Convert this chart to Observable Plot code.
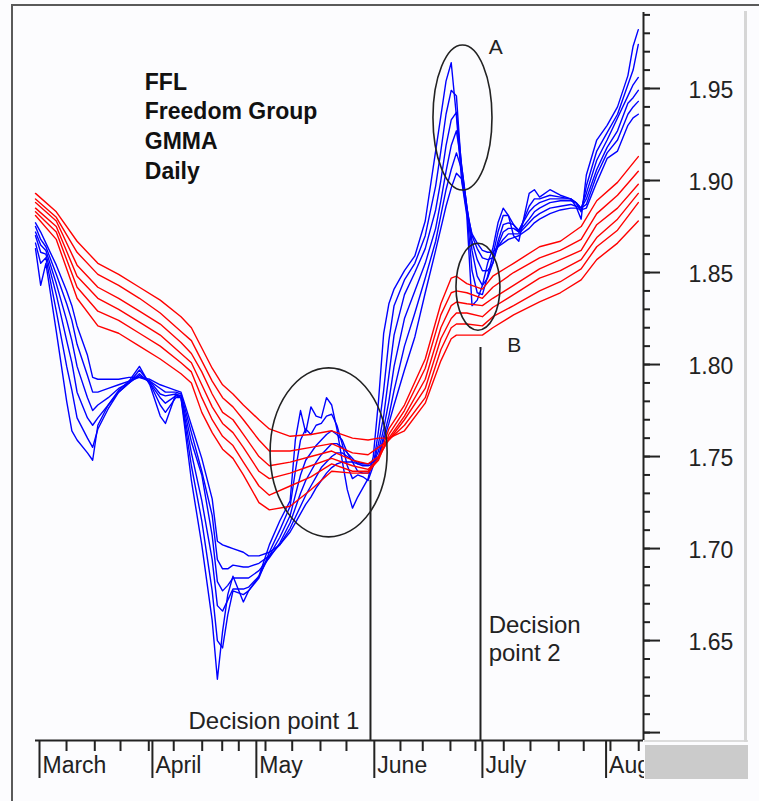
<!DOCTYPE html>
<html><head><meta charset="utf-8">
<script src="https://cdn.jsdelivr.net/npm/d3@7"></script>
<script src="https://cdn.jsdelivr.net/npm/@observablehq/plot@0.6"></script>
<style>
html,body{margin:0;padding:0;background:#fcfcfe;}
#wrap{position:relative;width:759px;height:801px;overflow:hidden;font-family:"Liberation Sans",Arial,sans-serif;}
#wrap svg{position:absolute;left:0;top:0;}
.deco{position:absolute;}
</style></head><body>
<div id="wrap"></div>
<script>
// ---- trading-day index (x) ----
const blueDays = [0,1,2,4,6,7,8,10,11,12, 14,16,18,20,22,24,25,27,28,30, 32,34,35,36,37,38,40,41,43,45,
  47,49,50,51,52,53,54,55,56,57, 58,59,60,61,62,63,64,65,66,67, 68,69,71,73,75,77,78,79,80,81,
  82,83,84,85,86,87,88,89,90,91, 92,93,95,96,97,99,101,103,104,105, 106,108,110,112,114,115,116];

// short-term group (blue)
const ema3 = [1.863,1.843,1.855,1.818,1.780,1.764,1.759,1.752,1.748,1.767,
  1.778,1.786,1.791,1.799,1.789,1.772,1.768,1.784,1.782,1.737,
  1.702,1.661,1.629,1.655,1.675,1.685,1.671,1.677,1.685,1.702,
  1.715,1.726,1.759,1.775,1.763,1.777,1.772,1.771,1.782,1.778,
  1.765,1.748,1.732,1.722,1.728,1.733,1.738,1.750,1.780,1.817,
  1.833,1.841,1.851,1.859,1.878,1.916,1.935,1.954,1.964,1.935,
  1.900,1.881,1.832,1.835,1.843,1.855,1.863,1.877,1.885,1.881,
  1.870,1.867,1.893,1.895,1.891,1.895,1.892,1.890,1.886,1.879,
  1.903,1.922,1.930,1.940,1.957,1.973,1.982];
const ema5 = [1.866,1.855,1.858,1.829,1.799,1.786,1.771,1.760,1.755,1.765,
  1.776,1.785,1.790,1.797,1.790,1.778,1.774,1.782,1.782,1.745,
  1.715,1.677,1.650,1.646,1.664,1.677,1.675,1.677,1.684,1.698,
  1.710,1.723,1.742,1.759,1.765,1.762,1.767,1.768,1.772,1.773,
  1.767,1.757,1.745,1.738,1.740,1.739,1.737,1.745,1.764,1.786,
  1.813,1.832,1.846,1.855,1.870,1.897,1.916,1.936,1.949,1.946,
  1.905,1.884,1.851,1.839,1.838,1.848,1.859,1.872,1.881,1.881,
  1.876,1.872,1.886,1.890,1.890,1.892,1.891,1.890,1.888,1.883,
  1.897,1.916,1.926,1.936,1.952,1.960,1.974];
const ema8 = [1.870,1.861,1.860,1.838,1.813,1.801,1.785,1.771,1.767,1.771,
  1.778,1.785,1.790,1.795,1.790,1.782,1.779,1.783,1.782,1.752,
  1.726,1.694,1.669,1.666,1.672,1.678,1.678,1.679,1.685,1.696,
  1.706,1.718,1.729,1.740,1.748,1.752,1.756,1.759,1.762,1.764,
  1.762,1.759,1.752,1.747,1.742,1.741,1.741,1.745,1.757,1.772,
  1.794,1.816,1.838,1.850,1.863,1.884,1.900,1.919,1.933,1.937,
  1.908,1.886,1.862,1.848,1.843,1.847,1.855,1.867,1.876,1.877,
  1.876,1.873,1.883,1.886,1.888,1.890,1.890,1.890,1.888,1.885,
  1.893,1.911,1.922,1.934,1.946,1.952,1.956];
const ema10 = [1.872,1.865,1.862,1.844,1.824,1.813,1.799,1.782,1.775,1.778,
  1.782,1.787,1.790,1.794,1.791,1.784,1.783,1.784,1.783,1.758,
  1.740,1.707,1.682,1.677,1.680,1.684,1.684,1.684,1.688,1.695,
  1.703,1.714,1.722,1.730,1.737,1.742,1.747,1.751,1.754,1.757,
  1.757,1.755,1.752,1.749,1.746,1.745,1.745,1.746,1.753,1.765,
  1.780,1.799,1.825,1.840,1.855,1.874,1.889,1.905,1.919,1.927,
  1.908,1.886,1.867,1.857,1.851,1.851,1.855,1.865,1.872,1.874,
  1.874,1.872,1.879,1.883,1.885,1.888,1.889,1.889,1.888,1.885,
  1.890,1.906,1.918,1.927,1.942,1.945,1.949];
const ema12 = [1.875,1.868,1.864,1.849,1.833,1.824,1.811,1.794,1.785,1.785,
  1.787,1.789,1.791,1.793,1.791,1.787,1.785,1.785,1.784,1.763,
  1.742,1.718,1.694,1.689,1.689,1.691,1.690,1.690,1.692,1.696,
  1.702,1.711,1.717,1.723,1.729,1.734,1.739,1.744,1.747,1.750,
  1.752,1.752,1.750,1.748,1.747,1.746,1.746,1.747,1.750,1.761,
  1.772,1.786,1.810,1.828,1.847,1.867,1.881,1.895,1.906,1.915,
  1.906,1.885,1.870,1.863,1.858,1.857,1.858,1.864,1.868,1.871,
  1.871,1.871,1.877,1.880,1.882,1.885,1.886,1.887,1.886,1.885,
  1.887,1.903,1.915,1.922,1.936,1.940,1.943];
const ema15 = [1.877,1.872,1.866,1.854,1.840,1.832,1.821,1.805,1.793,1.792,
  1.792,1.792,1.793,1.793,1.792,1.789,1.788,1.786,1.785,1.767,
  1.749,1.727,1.704,1.702,1.701,1.700,1.698,1.696,1.696,1.698,
  1.702,1.709,1.714,1.719,1.724,1.728,1.733,1.737,1.741,1.744,
  1.746,1.747,1.747,1.747,1.746,1.746,1.746,1.747,1.749,1.759,
  1.768,1.778,1.797,1.815,1.839,1.862,1.874,1.886,1.896,1.904,
  1.901,1.883,1.871,1.866,1.862,1.861,1.861,1.864,1.866,1.868,
  1.869,1.870,1.874,1.877,1.879,1.882,1.884,1.885,1.885,1.884,
  1.885,1.899,1.912,1.916,1.930,1.934,1.936];

// long-term group (red)
const redDays = [0,4,8,12,16,20,24,28,30,32, 34,36,38,40,43,45,49,53,57,61,
  64,66,68,71,75,78,80,81,83,86, 88,92,97,101,105,108,112,116];
const ema30 = [1.881,1.868,1.836,1.821,1.817,1.810,1.803,1.795,1.790,1.774,
  1.763,1.754,1.749,1.740,1.725,1.721,1.723,1.732,1.742,1.741,
  1.741,1.749,1.765,1.778,1.803,1.833,1.847,1.848,1.844,1.841,
  1.848,1.855,1.864,1.867,1.875,1.889,1.899,1.913];
const ema35 = [1.883,1.872,1.842,1.829,1.824,1.817,1.810,1.801,1.796,1.782,
  1.770,1.761,1.756,1.747,1.734,1.729,1.734,1.739,1.746,1.742,
  1.742,1.748,1.762,1.775,1.798,1.827,1.839,1.840,1.839,1.836,
  1.842,1.850,1.858,1.862,1.868,1.882,1.892,1.905];
const ema40 = [1.885,1.875,1.848,1.836,1.830,1.823,1.816,1.806,1.801,1.789,
  1.777,1.768,1.763,1.755,1.742,1.738,1.741,1.745,1.749,1.745,
  1.743,1.749,1.760,1.772,1.792,1.820,1.832,1.834,1.833,1.832,
  1.836,1.843,1.852,1.857,1.862,1.876,1.885,1.898];
const ema45 = [1.888,1.878,1.854,1.842,1.836,1.829,1.822,1.812,1.806,1.796,
  1.784,1.774,1.770,1.762,1.750,1.745,1.747,1.750,1.753,1.748,
  1.746,1.750,1.759,1.770,1.787,1.814,1.825,1.828,1.828,1.826,
  1.831,1.838,1.847,1.851,1.857,1.869,1.879,1.893];
const ema50 = [1.890,1.880,1.861,1.849,1.843,1.836,1.828,1.818,1.813,1.802,
  1.791,1.782,1.777,1.770,1.759,1.753,1.753,1.755,1.757,1.752,
  1.751,1.755,1.759,1.767,1.782,1.808,1.820,1.822,1.822,1.821,
  1.826,1.832,1.840,1.845,1.852,1.864,1.873,1.888];
const ema60 = [1.893,1.883,1.867,1.855,1.849,1.842,1.835,1.826,1.820,1.809,
  1.798,1.789,1.784,1.778,1.770,1.765,1.761,1.762,1.764,1.760,
  1.759,1.760,1.760,1.764,1.779,1.802,1.814,1.816,1.816,1.816,
  1.820,1.827,1.834,1.839,1.846,1.857,1.866,1.878];

// axes
const monthNames = ["March","April","May","June","July","August"];
const monthTicks = [0.77,22.5,42.5,65.2,86.0,109.8];
const weekTicks = [5.97,11.41,16.36,21.8,26.6,32.08,35.93,39.12,44.26,49.4,54.84,59.84,70.23,74.52,79.85,84.66,90.11,95.25,100.69,105.5,110.64,116.08];
const priceLabels = [1.65,1.70,1.75,1.80,1.85,1.90,1.95];
const priceMajor = [1.60,1.65,1.70,1.75,1.80,1.85,1.90,1.95];
const priceMinor = d3.range(160,200).map(v => v/100);
const xDomain = [0,117];
const yDomain = [1.5957,1.9913];

// annotations
const titleText = ["FFL","Freedom Group","GMMA","Daily"];
const notes = [
  {day:29.44, price:1.613, text:"Decision point 1"},
  {day:87.2, price:1.665, text:"Decision\npoint 2"}
];
const letters = [{day:87.2, price:1.977, text:"A"},{day:90.8, price:1.8147, text:"B"}];
const decisions = [{day:64.46, top:1.737},{day:85.63, top:1.8092}];
const ellipses = [
  {day:56.5, price:1.752, halfDays:11.26, halfPrice:0.0459},
  {day:82.26, price:1.934, halfDays:5.68, halfPrice:0.0394},
  {day:85.24, price:1.842, halfDays:4.23, halfPrice:0.0236}
];

const shortSeries = [ema3,ema5,ema8,ema10,ema12,ema15];
const longSeries = [ema30,ema35,ema40,ema45,ema50,ema60];
const blueRows = [], redRows = [];
shortSeries.forEach((vals,k) => vals.forEach((v,i) => blueRows.push({day:blueDays[i], price:v, series:"s"+k})));
longSeries.forEach((vals,k) => vals.forEach((v,i) => redRows.push({day:redDays[i], price:v, series:"l"+k})));
const monthRows = monthTicks.map((d,i) => ({day:d, name:monthNames[i]}));

const ink = "#222";
const plot = Plot.plot({
  width:759, height:801,
  marginLeft:35, marginRight:116, marginTop:12, marginBottom:61,
  x:{domain:xDomain}, y:{domain:yDomain},
  style:{fontFamily:"'Liberation Sans', Arial, sans-serif", fontSize:"23px", color:ink, background:"transparent"},
  marks:[
    Plot.line(blueRows, {x:"day", y:"price", z:"series", stroke:"#0000ff", strokeWidth:1.4}),
    Plot.line(redRows, {x:"day", y:"price", z:"series", stroke:"#ff0000", strokeWidth:1.4}),
    Plot.ruleX(decisions, {x:"day", y1:"top", y2:yDomain[0], stroke:ink, strokeWidth:2}),
    Plot.ruleY([yDomain[0]], {stroke:ink, strokeWidth:2}),
    Plot.ruleX([xDomain[1]], {stroke:ink, strokeWidth:2}),
    Plot.axisY(priceMajor, {anchor:"right", tickSize:16, strokeWidth:2, stroke:ink, tickFormat:() => "", label:null}),
    Plot.axisY(priceMinor, {anchor:"right", tickSize:6, strokeWidth:2, stroke:ink, tickFormat:() => "", label:null}),
    Plot.axisY(priceLabels, {anchor:"right", tickSize:0, tickPadding:45, dy:2, fill:ink, fontSize:23, tickFormat:d => d.toFixed(2), label:null}),
    Plot.axisX(monthTicks, {anchor:"bottom", tickSize:38, strokeWidth:2, stroke:ink, tickFormat:() => "", label:null}),
    Plot.axisX(weekTicks, {anchor:"bottom", tickSize:11, strokeWidth:2, stroke:ink, tickFormat:() => "", label:null}),
    Plot.text(monthRows, {x:"day", text:"name", frameAnchor:"bottom", textAnchor:"start", lineAnchor:"top", dx:3, dy:16, fontSize:23, fill:ink}),
    Plot.text([titleText.join("\n")], {x:21.03, y:1.9609, text:d => d, textAnchor:"start", lineAnchor:"top", fontSize:23, fontWeight:"bold", lineHeight:1.29, fill:"#111"}),
    Plot.text(notes, {x:"day", y:"price", text:"text", textAnchor:"start", lineAnchor:"top", fontSize:24, lineHeight:1.17, fill:ink}),
    Plot.text(letters, {x:"day", y:"price", text:"text", textAnchor:"start", lineAnchor:"top", fontSize:21, fill:ink})
  ]
});

const wrap = document.getElementById("wrap");
wrap.appendChild(plot);
const svgEl = plot.tagName.toLowerCase() === "svg" ? plot : plot.querySelector("svg");
const sx = plot.scale("x"), sy = plot.scale("y");
d3.select(svgEl).append("g").selectAll("ellipse").data(ellipses).join("ellipse")
  .attr("cx", d => sx.apply(d.day))
  .attr("cy", d => sy.apply(d.price))
  .attr("rx", d => sx.apply(d.day + d.halfDays) - sx.apply(d.day))
  .attr("ry", d => sy.apply(d.price - d.halfPrice) - sy.apply(d.price))
  .attr("fill","none").attr("stroke",ink).attr("stroke-width",1.6);

// window chrome
function deco(css){ const d = document.createElement("div"); d.className = "deco"; Object.assign(d.style, css); wrap.appendChild(d); }
deco({left:"644px", top:"742px", width:"115px", height:"59px", background:"#fcfcfe"});
deco({left:"644px", top:"740px", width:"104px", height:"2px", background:"#dcdcdc"});
deco({left:"744px", top:"11px", width:"3px", height:"731px", background:"#d6d6d6"});
deco({left:"645px", top:"745px", width:"103px", height:"34px", background:"#cbcbcb"});
deco({left:"11px", top:"4px", width:"748px", height:"2px", background:"#5a5a5a"});
deco({left:"11px", top:"4px", width:"2px", height:"797px", background:"#5a5a5a"});
</script>
</body></html>
